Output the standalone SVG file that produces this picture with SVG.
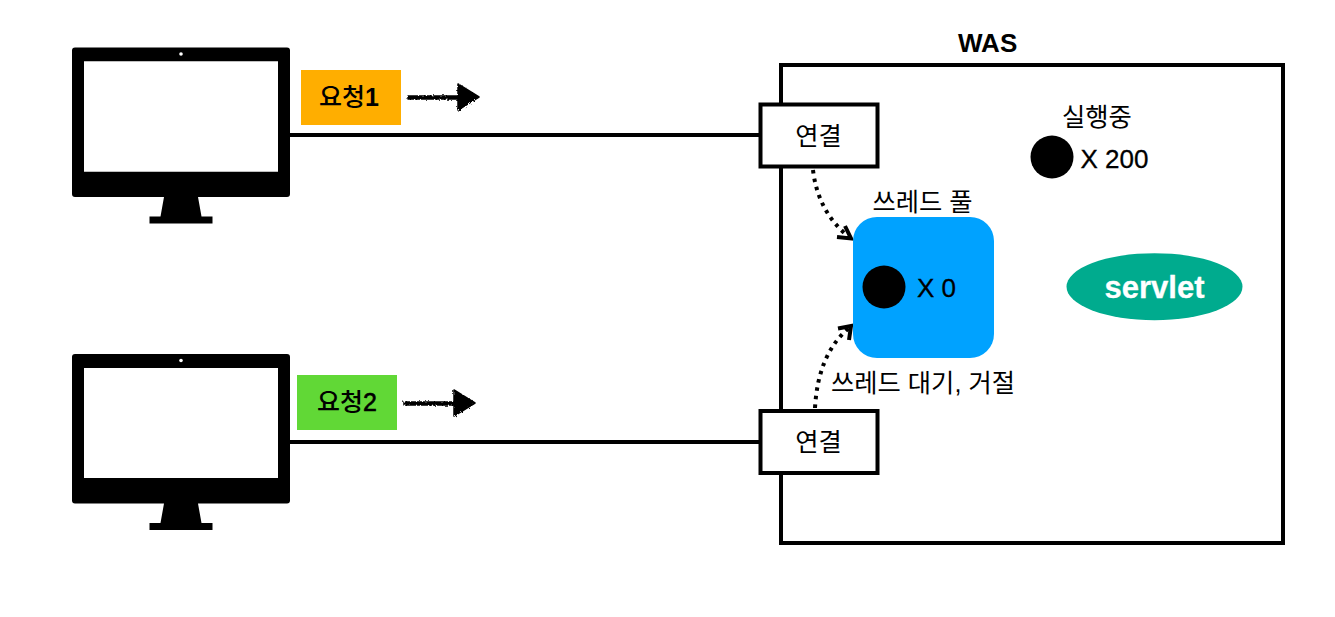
<svg xmlns="http://www.w3.org/2000/svg" width="1335" height="617" viewBox="0 0 1335 617">
<style>
text{font-family:"Liberation Sans","Noto Sans CJK KR",sans-serif;fill:#000;font-size:26px;stroke:#000;stroke-width:.3}
.k{font-size:25.300px;text-anchor:middle;stroke-width:0}
.b{font-weight:500;font-size:25px}
.box{fill:#fff;stroke:#000;stroke-width:4}
.line{fill:none;stroke:#000;stroke-width:4}
.dot{fill:none;stroke:#000;stroke-width:4;stroke-dasharray:3.500 5}
.head{fill:none;stroke:#000;stroke-width:4}
.rough{fill:#000;stroke:#000;stroke-width:1.500;stroke-linejoin:round;filter:url(#r)}
</style>
<defs>
<filter id="r" x="-10%" y="-50%" width="120%" height="200%">
<feTurbulence type="fractalNoise" baseFrequency="0.5" numOctaves="2" seed="3"/>
<feDisplacementMap in="SourceGraphic" scale="3"/>
</filter>
<g id="monitor">
<path fill-rule="evenodd" d="M75 47.500H287Q290 47.500 290 50.500V194Q290 197 287 197H198L201.500 216.500H212.500V223.500H149.500V216.500H160.500L164 197H75Q72 197 72 194V50.500Q72 47.500 75 47.500ZM84 61.500V171.500H278V61.500Z"/>
<rect x="84" y="61.500" width="194" height="110" fill="#fff"/>
<circle cx="181" cy="54" r="1.800" fill="#fff"/>
</g>
</defs>
<rect width="1335" height="617" fill="#fff"/>
<g id="was">
<rect x="781" y="65" width="502" height="478" fill="#fff" stroke="#000" stroke-width="4"/>
<text x="958" y="52" font-weight="700" style="stroke-width:0">WAS</text>
</g>
<g id="connectors">
<path class="line" d="M290 135H760"/>
<path class="line" d="M290 442H760"/>
<path class="dot" d="M813 170Q818 212 849 237"/>
<path class="head" d="M845 226L851 238.500L837 237"/>
<path class="dot" d="M815 408Q818 354 849 328"/>
<path class="head" d="M838 328.500L851 326L849 340"/>
<g class="rough"><path d="M408 96H458V84L479 97L458 110V99H408Z"/></g>
<g class="rough"><path d="M404 402H454V390L475 403L454 416V405H404Z"/></g>
</g>
<g id="client1"><use href="#monitor"/></g>
<g id="client2"><use href="#monitor" y="306.500"/></g>
<g id="req1"><rect x="301" y="70" width="100" height="55" fill="#FFAE00"/><text class="k b" x="349" y="106">요청<tspan font-weight="700">1</tspan></text></g>
<g id="req2"><rect x="297" y="375" width="100" height="55" fill="#61D836"/><text class="k b" x="347" y="411">요청<tspan style="stroke-width:.6">2</tspan></text></g>
<g id="conn1"><rect class="box" x="760.500" y="104.500" width="117" height="62"/><text class="k" x="818.500" y="144.500">연결</text></g>
<g id="conn2"><rect class="box" x="760.500" y="411" width="117" height="62"/><text class="k" x="818.500" y="451">연결</text></g>
<g id="pool">
<rect x="853" y="217" width="141" height="141" rx="24" fill="#00A2FF"/>
<circle cx="884" cy="287" r="21.500"/>
<text x="917" y="297">X 0</text>
<text class="k" x="922.500" y="211">쓰레드 풀</text>
</g>
<text class="k" x="923" y="392">쓰레드 대기, 거절</text>
<g id="running">
<text class="k" x="1097" y="126">실행중</text>
<circle cx="1052" cy="157" r="21.500"/>
<text x="1080.500" y="168">X 200</text>
</g>
<g id="servlet">
<ellipse cx="1154.500" cy="286.700" rx="88" ry="33.500" fill="#00AB8E"/>
<text x="1154.500" y="298" text-anchor="middle" font-weight="700" style="font-size:31px;fill:#fff;stroke:#fff">servlet</text>
</g>
</svg>
